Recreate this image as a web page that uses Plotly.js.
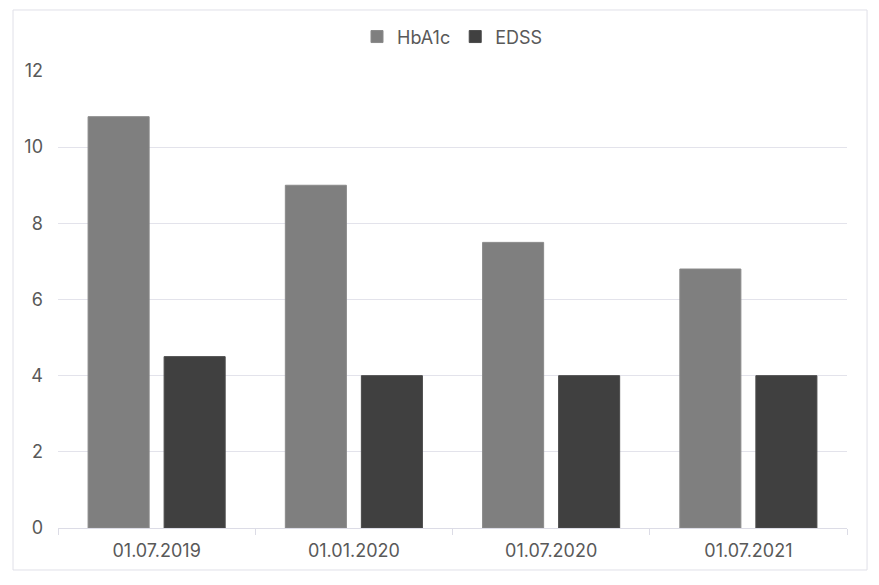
<!DOCTYPE html>
<html>
<head>
<meta charset="utf-8">
<script src="https://cdn.plot.ly/plotly-3.0.1.min.js"></script>
<style>html,body{margin:0;padding:0;background:#fff;}#chart{width:879px;height:585px;}</style>
</head>
<body>
<div id="chart"></div>
<script>
var categories = ["01.07.2019", "01.01.2020", "01.07.2020", "01.07.2021"];
var hba1c = [10.8, 9.0, 7.5, 6.8];
var edss = [4.5, 4, 4, 4];
var yTicks = [0, 2, 4, 6, 8, 10, 12];

var fontFam = "Inter, 'Noto Sans', sans-serif";
var traces = [
  {type: "bar", name: "HbA1c", x: categories, y: hba1c,
   marker: {color: "#7f7f7f", line: {color: "#8a8a8a", width: 1}}},
  {type: "bar", name: "EDSS", x: categories, y: edss,
   marker: {color: "#404040", line: {color: "#4a4a4a", width: 1}}}
];
var layout = {
  width: 879, height: 585,
  margin: {l: 58, r: 32, t: 71, b: 57, autoexpand: false},
  paper_bgcolor: "#ffffff", plot_bgcolor: "#ffffff",
  barmode: "group", bargap: 0.229, bargroupgap: 0.197,
  font: {family: fontFam, size: 18, color: "#595959"},
  showlegend: true,
  legend: {orientation: "h", x: 0.5, xanchor: "center", xref: "paper",
           yref: "container", y: 0.937, yanchor: "middle",
           font: {family: fontFam, size: 18, color: "#595959"}, itemwidth: 30, traceorder: "normal"},
  xaxis: {type: "category", showgrid: false, showline: true, linecolor: "#dcdce6", linewidth: 1,
          ticks: "outside", tickson: "boundaries", ticklen: 6, tickcolor: "#dcdce6",
          tickfont: {family: fontFam, size: 18, color: "#595959"}, ticklabelstandoff: 6},
  yaxis: {range: [0, 12], tickvals: yTicks, ticktext: yTicks.map(String), showgrid: true,
          gridcolor: "#e3e3eb", gridwidth: 1, zeroline: false, showline: false, ticks: "",
          tickfont: {family: fontFam, size: 18, color: "#595959"}, ticklabelstandoff: 14},
  shapes: [{type: "rect", xref: "paper", yref: "paper",
            x0: -0.057, x1: 1.0254, y0: -0.0919, y1: 1.1335,
            line: {color: "#e0e0e8", width: 1}, fillcolor: "rgba(0,0,0,0)", layer: "below"}]
};
Plotly.newPlot("chart", traces, layout, {displayModeBar: false, staticPlot: true});
</script>
</body>
</html>
